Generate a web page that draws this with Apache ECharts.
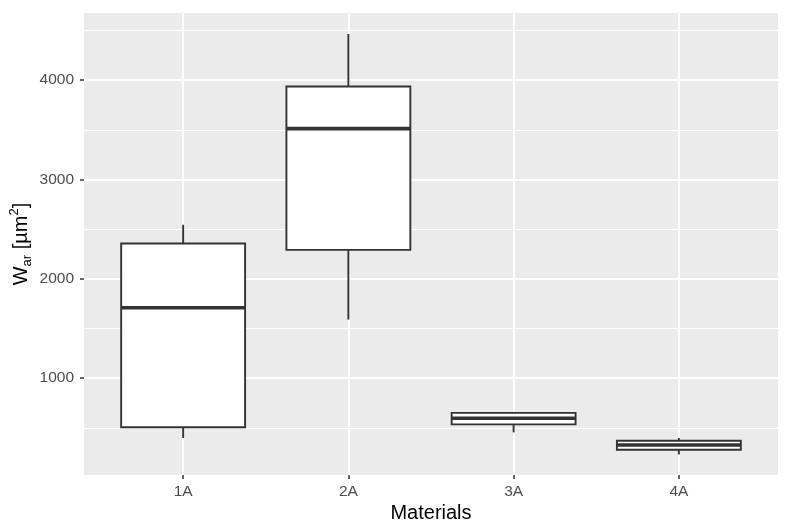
<!DOCTYPE html>
<html>
<head>
<meta charset="utf-8">
<title>Boxplot</title>
<script src="https://cdn.jsdelivr.net/npm/echarts@6/dist/echarts.min.js"></script>
<style>
  html, body { margin: 0; padding: 0; background: #fff; }
  #chart { width: 786px; height: 531px; }
</style>
</head>
<body>
<div id="chart"></div>
<script>
// data
var categories = ['1A', '2A', '3A', '4A'];
var whiskerLow = [397, 1590, 454, 232];
var q1 = [505, 2291, 535, 279];
var median = [1708, 3512, 596, 327];
var q3 = [2355, 3936, 650, 370];
var whiskerHigh = [2544, 4465, 652, 397];
var yMajor = [1000, 2000, 3000, 4000];
var yMinor = [500, 1500, 2500, 3500, 4500];

var yMin = 25, yMax = 4676;   // ggplot-style 5% expansion
var boxHalf = 0.375;          // box width 0.75 of a category

var boxData = categories.map(function (c, i) {
  return [i + 1, whiskerLow[i], q1[i], median[i], q3[i], whiskerHigh[i]];
});

function renderBox(params, api) {
  var x = api.value(0);
  var pLow = api.coord([x, api.value(1)]);
  var pQ1 = api.coord([x, api.value(2)]);
  var pHigh = api.coord([x, api.value(5)]);
  var bl = api.coord([x - boxHalf, api.value(2)]);
  var tr = api.coord([x + boxHalf, api.value(4)]);
  var mL = api.coord([x - boxHalf, api.value(3)]);
  var mR = api.coord([x + boxHalf, api.value(3)]);
  var stroke = '#333333';
  return {
    type: 'group',
    children: [
      { type: 'line', shape: { x1: pLow[0], y1: pLow[1], x2: pQ1[0], y2: pQ1[1] },
        style: { stroke: stroke, lineWidth: 1.9 } },
      { type: 'line', shape: { x1: pHigh[0], y1: pHigh[1], x2: pHigh[0], y2: tr[1] },
        style: { stroke: stroke, lineWidth: 1.9 } },
      { type: 'rect', shape: { x: bl[0], y: tr[1], width: tr[0] - bl[0], height: bl[1] - tr[1] },
        style: { fill: '#ffffff', stroke: stroke, lineWidth: 1.9 } },
      { type: 'line', shape: { x1: mL[0], y1: mL[1], x2: mR[0], y2: mR[1] },
        style: { stroke: stroke, lineWidth: 3.6 } }
    ]
  };
}

var chart = echarts.init(document.getElementById('chart'));
chart.setOption({
  animation: false,
  grid: {
    left: 84, right: 8, top: 13, bottom: 56,
    outerBoundsMode: 'none',
    containLabel: false,
    show: true, backgroundColor: '#EBEBEB', borderWidth: 0
  },
  xAxis: {
    type: 'value',
    min: 0.4, max: 4.6,
    name: 'Materials',
    nameLocation: 'middle',
    nameGap: 28,
    nameMoveOverlap: false,
    nameTextStyle: { color: '#000', fontSize: 20, fontFamily: 'Liberation Sans' },
    axisLine: { show: false },
    axisTick: { show: true, length: 4, customValues: [1, 2, 3, 4],
      lineStyle: { color: '#333333', width: 1.5 } },
    axisLabel: {
      customValues: [1, 2, 3, 4],
      margin: 9,
      color: '#4D4D4D', fontSize: 15.5, fontFamily: 'Liberation Sans',
      formatter: function (v) { return categories[Math.round(v) - 1] || ''; }
    },
    splitLine: { show: true, lineStyle: { color: '#ffffff', width: 2 } }
  },
  yAxis: [{
    type: 'value',
    min: yMin, max: yMax,
    name: '{t|W}{sub|ar}{t| [µm}{sup|2}{t|]}',
    nameLocation: 'middle',
    nameGap: 50,
    nameMoveOverlap: false,
    nameTextStyle: {
      color: '#000', fontFamily: 'Liberation Sans',
      rich: {
        t: { fontSize: 20, color: '#000', fontFamily: 'Liberation Sans', lineHeight: 26, verticalAlign: 'middle' },
        sub: { fontSize: 13, color: '#000', fontFamily: 'Liberation Sans', lineHeight: 26, verticalAlign: 'bottom' },
        sup: { fontSize: 13, color: '#000', fontFamily: 'Liberation Sans', lineHeight: 26, verticalAlign: 'top' }
      }
    },
    axisLine: { show: false },
    axisTick: { show: true, length: 4, customValues: yMajor,
      lineStyle: { color: '#333333', width: 1.5 } },
    axisLabel: {
      customValues: yMajor,
      margin: 10,
      color: '#4D4D4D', fontSize: 15.5, fontFamily: 'Liberation Sans',
      formatter: function (v) { return String(v); }
    },
    splitLine: { show: true, lineStyle: { color: '#ffffff', width: 2 } }
  }, {
    type: 'value',
    min: yMin, max: yMax,
    position: 'left',
    axisLine: { show: false },
    axisTick: { show: false, customValues: yMinor },
    axisLabel: { show: false, customValues: yMinor },
    splitLine: { show: true, lineStyle: { color: '#ffffff', width: 1 } }
  }],
  series: [{
    type: 'custom',
    renderItem: renderBox,
    xAxisIndex: 0,
    yAxisIndex: 0,
    encode: { x: 0, y: [1, 2, 3, 4, 5] },
    data: boxData,
    z: 10
  }]
});
</script>
</body>
</html>
